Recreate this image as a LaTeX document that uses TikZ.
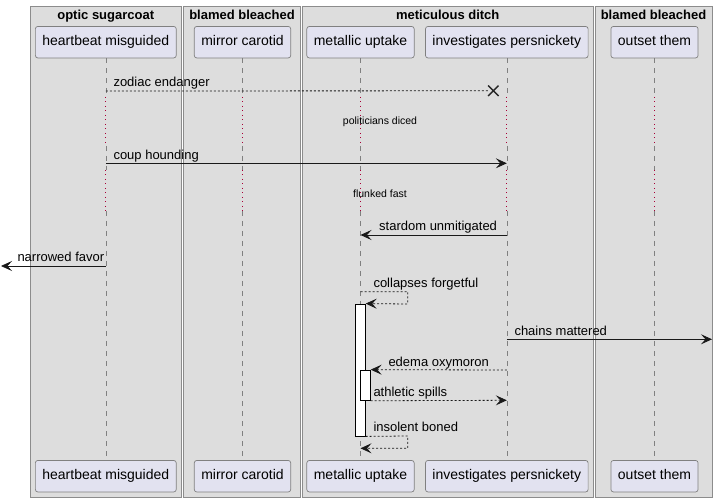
\documentclass[tikz,border=0pt]{standalone}
\usepackage{fontspec}
\setmainfont{Liberation Sans}
\usepackage{tikz}
\usetikzlibrary{arrows.meta,shapes.misc}
\definecolor{groupbg}{HTML}{DDDDDD}
\definecolor{partbg}{HTML}{E2E2F0}
\definecolor{delayred}{HTML}{A80036}

\begin{document}
\begin{tikzpicture}[x=1pt,y=-1pt,>={Stealth[length=11pt,width=10pt,inset=4.5pt]}]
   \useasboundingbox (0,0) rectangle (717,502);
   \tikzstyle{group}=[fill=groupbg, draw=black!45, line width=0.8pt]
   \tikzstyle{head}=[anchor=base, inner sep=0pt, font=\fontsize{13}{15}\selectfont\bfseries]
   \tikzstyle{part}=[rounded corners=2.5pt, fill=partbg, draw=black!50, line width=0.7pt, minimum height=31.5pt, inner xsep=7pt, text height=10pt, text depth=3pt, font=\fontsize{14}{16}\selectfont]
   \tikzstyle{life}=[draw=black!50, line width=0.6pt, dash pattern=on 5pt off 5pt]
   \tikzstyle{delay}=[draw=delayred, line width=0.7pt, dash pattern=on 1pt off 3.5pt]
   \tikzstyle{call}=[->, line width=0.8pt, draw=black!90]
   \tikzstyle{reply}=[->, line width=0.8pt, draw=black!90, dash pattern=on 2pt off 2pt]
   \tikzstyle{msg}=[anchor=base west, inner sep=0pt, font=\fontsize{13}{15}\selectfont]
   \tikzstyle{act}=[draw=black, fill=white, line width=0.8pt, minimum width=10pt, inner sep=0pt]
   \foreach \l/\r/\g/\title in {30/181.5/g1/{optic sugarcoat},183.5/300.5/g2/{blamed bleached},302.5/593/g3/{meticulous ditch},595/712/g4/{blamed bleached}} {
       \draw[group] (\l,6) rectangle (\r,497);
       \node[head] (\g) at ({(\l+\r)/2},19.8) {\title};
   }
   \foreach \p/\x/\who in {hm/105.8/{heartbeat misguided},mc/242.5/{mirror carotid},mu/360.5/{metallic uptake},ip/506.8/{investigates persnickety},ot/654.5/{outset them}} {
       \node[part] (top\p) at (\x,42.2) {\who};
       \node[part] (bot\p) at (\x,476.2) {\who};
       \draw[life] (top\p) -- (top\p |- 0,97);
       \draw[delay] (top\p |- 0,97) -- (top\p |- 0,146);
       \draw[life] (top\p |- 0,146) -- (top\p |- 0,170);
       \draw[delay] (top\p |- 0,170) -- (top\p |- 0,211);
       \draw[life] (top\p |- 0,211) -- (bot\p);
   }
   \node[act, minimum height=132pt] (act1) at (360.3,370) {};
   \node[act, minimum height=30.3pt] (act2) at (365.3,385.2) {};
   \node[cross out, draw=black!85, line width=1.4pt, minimum size=9pt, inner sep=0pt] (kill) at (493.3,90.8) {};
   \coordinate (lost) at (1,266);
   \coordinate (found) at (712,339.3);
   \draw[reply, -] (tophm |- 0,91) -- (kill.west);
   \node[msg] (m1) at (113.3,87) {zodiac endanger};
   \node[font=\fontsize{10.5}{12}\selectfont] (d1) at (380,121.5) {politicians diced};
   \draw[call] (tophm |- 0,163.3) -- (topip |- 0,163.3);
   \node[msg] (m2) at (113.3,159.3) {coup hounding};
   \node[font=\fontsize{10.5}{12}\selectfont] (d2) at (380,193.5) {flunked fast};
   \draw[call] (topip |- 0,235) -- (topmu |- 0,235);
   \node[msg] (m3) at (379,231) {stardom unmitigated};
   \draw[call] (tophm |- 0,266) -- (lost);
   \node[msg] (m4) at (17.3,262) {narrowed favor};
   \draw[reply] (topmu |- 0,291.7) -- (407.7,291.7) -- (407.7,304) -- (act1.north east);
   \node[msg] (m5) at (373.3,287.7) {collapses forgetful};
   \draw[call] (topip |- 0,339.3) -- (found);
   \node[msg] (m6) at (514.3,335.3) {chains mattered};
   \draw[reply] (topip |- 0,370) -- (act2.north east);
   \node[msg] (m7) at (388.3,366) {edema oxymoron};
   \draw[reply] (act2.south east) -- (topip |- 0,400.3);
   \node[msg] (m8) at (373.3,396.3) {athletic spills};
   \draw[reply] (act1.south east) -- (407.7,436) -- (407.7,448.3) -- (topmu |- 0,448.3);
   \node[msg] (m9) at (373.3,431.3) {insolent boned};
\end{tikzpicture}
\end{document}
